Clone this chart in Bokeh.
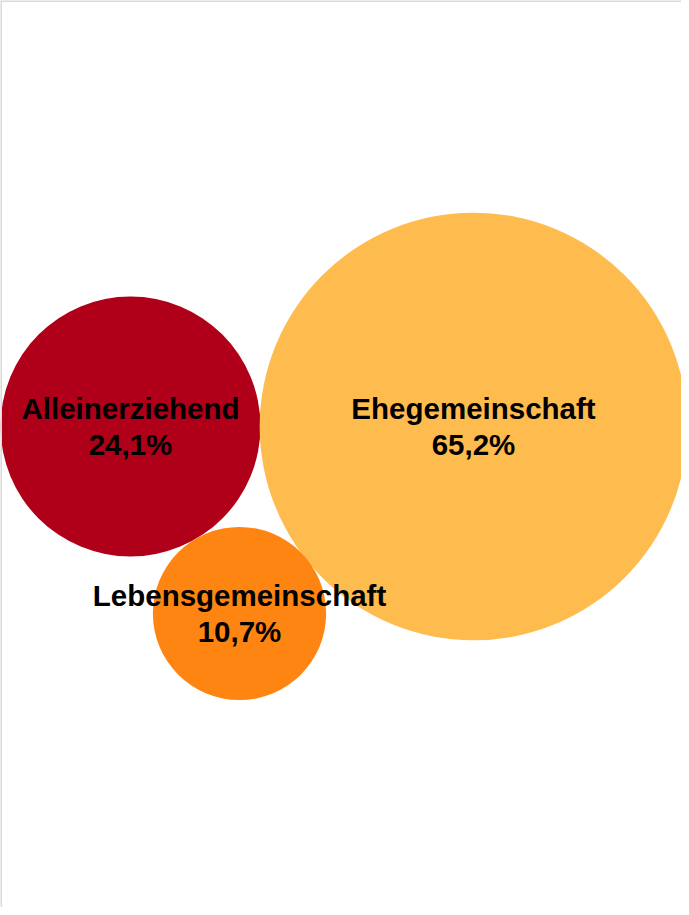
from bokeh.plotting import figure
from bokeh.models import ColumnDataSource, Range1d, Span
from bokeh.core.properties import value
from bokeh.embed import file_html
from bokeh.resources import INLINE
import math

# Data
categories = ["Alleinerziehend", "Ehegemeinschaft", "Lebensgemeinschaft"]
shares = [24.1, 65.2, 10.7]
share_labels = ["24,1%", "65,2%", "10,7%"]
pos_x = [130, 473, 239]
pos_y = [481, 481, 294]
colors = ["#b00019", "#ffbc4e", "#ff8512"]

W, H = 681, 907
scale = 130 / math.sqrt(24.1)
radii = [scale * math.sqrt(v) for v in shares]
labels = [c + "\n" + s for c, s in zip(categories, share_labels)]

src = ColumnDataSource(dict(x=pos_x, y=pos_y, r=radii, color=colors, label=labels))

p = figure(width=W, height=H, output_backend="svg", toolbar_location=None,
           x_range=Range1d(0, W), y_range=Range1d(0, H),
           min_border=0, min_border_left=0, min_border_right=0,
           min_border_top=0, min_border_bottom=0)
p.axis.visible = False
p.grid.visible = False
p.outline_line_color = None
p.background_fill_color = "white"
p.border_fill_color = "white"

p.circle(x="x", y="y", radius="r", fill_color="color", line_color=None, source=src)
p.text(x="x", y="y", text="label", text_align="center", text_baseline="middle",
       text_font=value("Liberation Sans"), text_font_style="bold",
       text_font_size="29.5px", text_color="black", text_line_height=1.08, source=src)

p.add_layout(Span(location=H - 0.5, dimension="width", line_color="#d9d9d9", line_width=2))
p.add_layout(Span(location=0.5, dimension="height", line_color="#d9d9d9", line_width=2))

open("out.html", "w").write(file_html(p, INLINE))
